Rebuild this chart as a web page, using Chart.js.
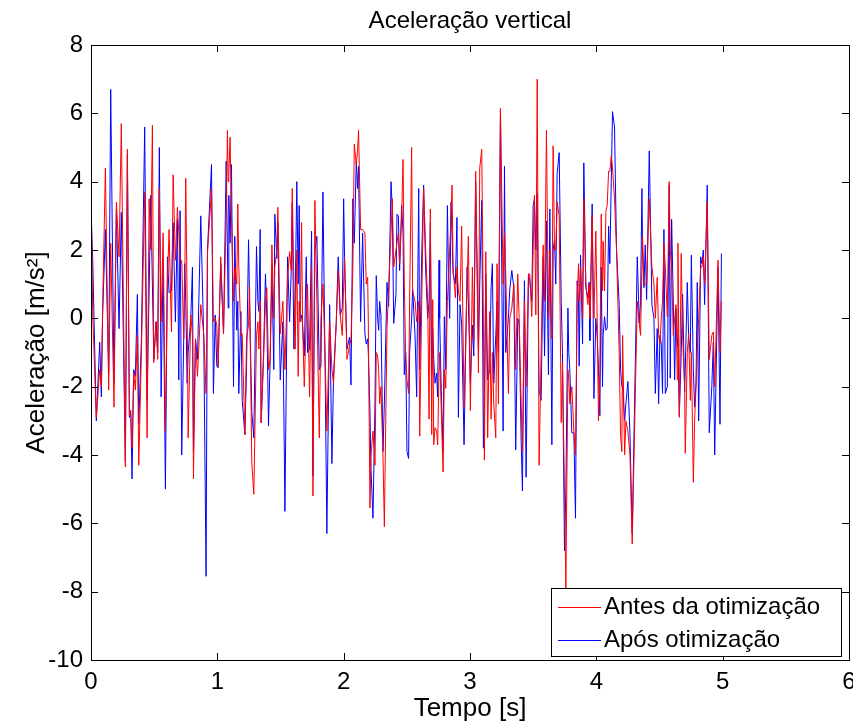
<!DOCTYPE html>
<html><head><meta charset="utf-8">
<script src="https://cdn.jsdelivr.net/npm/chart.js@4/dist/chart.umd.min.js"></script>
<style>html,body{margin:0;padding:0;background:#fff}</style>
</head><body>
<canvas id="c" width="853" height="726"></canvas>
<script>
const chartTitle = 'Aceleração vertical';
const xTitle = 'Tempo [s]';
const yTitle = 'Aceleração [m/s²]';
const seriesNames = ['Antes da otimização', 'Após otimização'];
const xTicks = [0, 1, 2, 3, 4, 5, 6];
const yTicks = [-10, -8, -6, -4, -2, 0, 2, 4, 6, 8];

const time = [0.000,0.013,0.042,0.069,0.082,0.092,0.114,0.140,0.156,0.182,0.201,0.222,0.240,0.272,0.288,0.304,0.314,0.325,0.338,0.351,0.367,0.378,0.399,0.425,0.444,0.460,0.473,0.486,0.497,0.515,0.528,0.541,0.555,0.571,0.589,0.605,0.618,0.637,0.650,0.668,0.684,0.695,0.705,0.718,0.734,0.742,0.750,0.761,0.769,0.790,0.803,0.811,0.827,0.843,0.869,0.893,0.911,0.922,0.954,0.969,0.983,0.996,1.006,1.027,1.049,1.070,1.080,1.086,1.091,1.101,1.112,1.128,1.138,1.154,1.162,1.170,1.186,1.197,1.218,1.231,1.247,1.255,1.273,1.289,1.310,1.321,1.329,1.339,1.347,1.366,1.381,1.392,1.405,1.418,1.432,1.447,1.455,1.471,1.479,1.498,1.519,1.535,1.556,1.572,1.585,1.593,1.606,1.616,1.629,1.640,1.648,1.656,1.667,1.675,1.688,1.704,1.714,1.730,1.746,1.757,1.772,1.788,1.807,1.820,1.836,1.852,1.867,1.889,1.907,1.920,1.941,1.957,1.973,1.989,2.000,2.007,2.026,2.047,2.058,2.073,2.084,2.100,2.110,2.118,2.134,2.150,2.168,2.179,2.190,2.195,2.208,2.216,2.232,2.248,2.258,2.269,2.277,2.285,2.295,2.311,2.322,2.343,2.356,2.375,2.385,2.396,2.414,2.422,2.433,2.443,2.459,2.470,2.480,2.491,2.501,2.514,2.522,2.538,2.546,2.565,2.578,2.594,2.602,2.618,2.633,2.649,2.665,2.676,2.686,2.697,2.705,2.713,2.723,2.736,2.744,2.755,2.760,2.771,2.787,2.797,2.808,2.821,2.829,2.839,2.850,2.858,2.866,2.884,2.897,2.908,2.921,2.934,2.953,2.977,2.987,3.003,3.019,3.030,3.045,3.067,3.077,3.093,3.106,3.114,3.125,3.140,3.156,3.167,3.177,3.188,3.204,3.214,3.225,3.241,3.262,3.273,3.283,3.304,3.315,3.331,3.347,3.362,3.378,3.389,3.405,3.415,3.431,3.444,3.463,3.473,3.489,3.500,3.510,3.521,3.532,3.547,3.563,3.579,3.590,3.605,3.621,3.632,3.648,3.658,3.669,3.679,3.690,3.706,3.722,3.732,3.748,3.759,3.775,3.782,3.790,3.806,3.822,3.835,3.848,3.859,3.864,3.875,3.891,3.901,3.917,3.933,3.943,3.949,3.967,3.981,3.996,4.007,4.017,4.028,4.039,4.049,4.054,4.065,4.076,4.086,4.097,4.107,4.118,4.128,4.144,4.160,4.181,4.192,4.202,4.208,4.224,4.234,4.250,4.266,4.284,4.324,4.340,4.350,4.361,4.366,4.377,4.387,4.398,4.419,4.440,4.456,4.467,4.482,4.493,4.503,4.514,4.524,4.535,4.546,4.562,4.577,4.585,4.596,4.609,4.620,4.630,4.641,4.646,4.657,4.672,4.683,4.699,4.704,4.720,4.731,4.744,4.752,4.768,4.778,4.789,4.799,4.810,4.826,4.836,4.847,4.857,4.878,4.894,4.914,4.926,4.937,4.963,4.979,4.990];

const antes = [4.1,0.2,-2.9,-1.5,-2.0,0.3,4.4,-2.1,2.2,-2.6,3.4,1.8,5.7,-4.35,4.95,-2.85,-2.7,-3.8,-1.6,-2.1,-0.5,-4.3,-1.0,3.7,-3.5,3.5,2.0,5.65,-1.3,-0.1,-1.2,3.8,-0.1,2.5,-3.3,1.0,2.6,-0.4,4.2,1.7,3.25,2.5,1.7,1.7,-0.6,1.0,4.1,0.5,-3.5,0.1,-0.5,-4.7,-0.6,-1.7,0.4,-0.5,-2.2,1.9,3.8,-0.1,0.0,-0.2,-1.4,1.8,-0.45,3.0,5.5,4.0,4.2,5.3,3.0,0.5,1.5,1.0,3.35,1.5,-0.5,-0.45,-3.4,-0.6,-0.2,0.95,-4.25,-5.15,-0.5,-0.1,-0.9,0.5,-3.05,-1.2,0.5,0.9,-1.5,-1.2,2.15,0.0,1.5,2.0,3.25,-0.45,0.5,-1.5,1.2,1.95,1.4,3.8,1.0,-0.9,2.0,-1.7,0.5,-0.1,2.8,-0.2,-2.0,0.0,1.0,-2.3,1.5,-5.2,3.45,0.5,-3.5,0.0,1.0,-1.0,-3.3,-0.1,-1.5,-1.9,-0.15,1.4,0.1,-0.5,1.0,1.75,-1.2,-0.8,-0.6,1.5,5.1,4.5,4.9,5.5,2.6,2.6,2.5,1.0,1.2,-0.1,-5.55,-4.0,-3.3,-4.3,-1.0,-1.1,-1.5,-2.5,-2.0,-4.0,-6.1,-0.3,0.9,2.5,3.5,1.5,2.0,2.2,2.5,1.6,3.0,4.65,1.0,-1.1,-1.8,-2.2,0.5,5.0,0.8,0.5,-0.1,0.5,-3.45,0.5,3.8,2.0,0.5,-2.95,3.2,-3.4,0.55,-3.7,-3.2,-3.3,-3.7,-1.5,-1.0,-2.5,-4.5,-1.5,-2.05,0.5,1.1,2.0,3.0,3.9,1.5,0.6,1.5,0.8,0.5,2.7,-2.6,1.0,2.4,-2.7,1.5,-0.65,4.3,-1.6,4.4,4.95,0.0,-4.15,1.95,-3.5,0.2,-2.95,-1.0,-2.5,-3.5,1.6,-2.5,6.15,1.0,2.5,1.3,-2.2,0.0,0.3,1.0,-1.5,1.3,0.0,-2.5,-3.9,0.5,-2.0,1.3,1.3,0.05,2.0,3.6,0.1,7.0,-4.3,-1.0,2.15,0.5,5.5,0.0,2.0,-0.6,5.05,2.0,2.0,3.4,3.0,-3.05,-1.3,-5.0,-7.9,-1.5,-1.8,-2.5,-2.0,-3.3,-4.0,0.5,1.6,0.5,1.5,0.0,3.5,1.0,0.4,1.0,0.0,3.0,0.0,2.55,0.0,-3.0,-1.5,3.05,0.8,2.25,0.8,3.15,3.3,4.3,4.3,4.75,4.4,3.5,2.0,-1.0,-3.45,-3.9,-0.5,-4.0,-3.0,-3.3,-4.0,-6.6,0.5,-0.15,-0.5,1.5,2.4,1.0,1.0,1.0,3.5,1.5,1.0,0.0,1.2,-0.5,-0.75,0.0,0.5,2.2,1.5,0.05,4.0,2.0,1.5,-0.5,0.0,0.4,-1.8,2.2,-2.9,1.9,-0.5,-2.0,-3.95,-1.0,-0.45,-2.4,-1.0,-4.8,-3.0,-2.0,-1.0,0.0,1.5,1.5,1.8,1.0,3.4,-1.2,-0.5,-0.4,-2.0,1.7,-1.0,0.5];

const apos = [3.1,1.8,-3.0,-0.7,-2.3,0.1,2.6,-1.6,6.7,-1.9,3.2,-0.3,3.1,-4.2,4.8,-2.9,-2.7,-4.7,-1.5,-1.7,0.7,-3.1,-0.6,5.6,-2.4,0.8,3.6,1.0,-1.2,-0.1,-1.0,5.0,-2.3,1.7,-5.0,1.8,0.75,0.8,2.8,-0.1,2.9,-1.8,3.15,-4.0,-0.6,1.6,0.5,-1.9,-1.0,0.0,1.5,-3.9,-0.6,-1.2,3.0,-0.7,-7.55,2.0,4.5,-2.2,0.1,-1.4,-1.45,1.6,-0.45,4.6,2.0,0.3,3.6,2.2,4.5,-2.0,2.4,-0.35,0.5,-2.2,0.2,-2.4,-3.4,-1.5,2.3,0.5,-2.75,-3.5,2.1,0.5,0.2,2.6,-3.05,-1.0,1.3,0.0,-3.15,-1.2,1.4,-1.5,3.05,1.75,2.8,-1.8,-0.1,-5.65,1.8,-0.1,1.4,3.4,-0.9,0.5,4.0,1.0,3.3,-0.1,0.1,-0.2,-1.1,1.8,-1.0,-0.9,2.55,-4.6,2.0,2.4,-1.5,-1.4,3.7,-1.1,-6.3,0.4,-4.25,-1.65,-0.15,1.8,0.1,0.3,3.5,1.8,-0.9,-0.55,-1.95,3.5,2.2,4.6,3.8,4.45,-0.1,2.5,-0.45,-0.75,-0.6,-1.0,-2.7,-4.4,-5.85,-2.5,1.25,0.0,-0.35,0.5,0.1,-3.9,-2.5,1.05,0.35,4.0,3.2,-0.15,0.7,3.05,3.0,1.4,3.3,2.5,-1.65,-1.0,-3.9,-4.1,-1.0,0.0,0.85,-0.5,-2.3,3.8,-1.5,1.9,3.9,1.4,0.0,0.5,2.8,-1.65,-0.3,-1.2,-1.9,-1.6,-2.3,1.7,0.0,-1.9,-3.9,0.05,-1.5,3.3,1.5,0.0,3.4,2.5,1.3,1.0,2.95,-2.9,0.4,-0.2,-3.7,1.5,0.5,-1.9,-0.2,-1.1,4.0,-0.9,1.0,3.45,-3.8,-2.3,1.3,-1.8,-1.5,0.9,1.6,-1.9,-0.5,0.5,-1.0,6.1,-3.3,4.45,-1.0,0.0,0.85,1.4,0.9,-3.85,0.0,-0.15,-3.6,-5.05,1.1,-4.65,1.3,1.1,0.5,3.3,3.5,2.0,3.65,-2.1,-2.4,1.8,-1.1,2.85,-1.65,3.2,-3.7,2.0,2.3,1.0,4.25,4.85,0.5,-1.0,-6.8,-5.0,0.3,-1.0,-1.5,-3.35,-3.35,-5.85,1.1,0.5,-1.4,1.85,-0.75,4.55,0.9,0.6,1.05,-0.65,3.35,-2.35,0.0,-0.55,-1.5,-2.85,1.5,-2.0,-0.5,0.05,-0.35,-0.3,2.7,1.6,4.0,6.05,5.6,2.0,0.4,-1.5,-2.0,-2.0,-3.0,-2.5,-1.85,-3.35,-6.3,1.8,-0.15,0.5,3.8,2.0,0.9,2.15,0.55,4.9,0.4,0.0,-2.2,-0.3,-2.5,-0.5,-0.75,-2.2,2.6,-2.2,-2.0,3.9,-1.75,2.9,0.5,-1.8,0.3,-0.6,-0.8,-2.85,-1.0,0.7,-2.15,-1.5,1.05,-0.6,-1.0,1.85,-1.5,-2.6,-1.9,1.05,-3.0,1.8,1.6,2.0,0.4,3.9,-3.35,-2.0,-0.7,-4.0,1.5,-3.1,1.9];

const FONT = '"Liberation Sans", Arial, Helvetica, sans-serif';
const toPts = vals => time.map((t, i) => ({ x: t, y: vals[i] }));

const titlePlugin = {
  id: 'areaTitle',
  afterDraw(chart, args, o) {
    const { ctx, chartArea: a } = chart;
    ctx.save();
    ctx.fillStyle = '#000';
    ctx.font = o.size + 'px ' + FONT;
    ctx.textAlign = 'center';
    ctx.textBaseline = 'middle';
    ctx.fillText(o.text, (a.left + a.right) / 2, o.y);
    ctx.restore();
  }
};

const framePlugin = {
  id: 'frame',
  afterDatasetsDraw(chart) {
    const { ctx, chartArea: a, scales } = chart;
    const L = 7;
    ctx.save();
    ctx.strokeStyle = '#000';
    ctx.lineWidth = 1;
    ctx.beginPath();
    xTicks.forEach(v => {
      const px = Math.round(scales.x.getPixelForValue(v)) + 0.5;
      ctx.moveTo(px, a.bottom); ctx.lineTo(px, a.bottom - L);
      ctx.moveTo(px, a.top); ctx.lineTo(px, a.top + L);
    });
    yTicks.forEach(v => {
      const py = Math.round(scales.y.getPixelForValue(v)) + 0.5;
      ctx.moveTo(a.left, py); ctx.lineTo(a.left + L, py);
      ctx.moveTo(a.right, py); ctx.lineTo(a.right - L, py);
    });
    ctx.stroke();
    ctx.strokeRect(Math.round(a.left) + 0.5, Math.round(a.top) + 0.5, Math.round(a.right - a.left), Math.round(a.bottom - a.top));
    ctx.restore();
  }
};

const legendPlugin = {
  id: 'boxLegend',
  afterDraw(chart, args, o) {
    const { ctx } = chart;
    ctx.save();
    ctx.fillStyle = '#fff';
    ctx.fillRect(o.x, o.y, o.w, o.h);
    ctx.strokeStyle = '#000';
    ctx.lineWidth = 1;
    ctx.strokeRect(o.x + 0.5, o.y + 0.5, o.w, o.h);
    ctx.font = '24px ' + FONT;
    ctx.textBaseline = 'middle';
    chart.data.datasets.forEach((ds, i) => {
      const cy = o.y + o.row0 + i * o.rowH;
      ctx.strokeStyle = ds.borderColor;
      ctx.beginPath();
      ctx.moveTo(o.x + 7, Math.round(cy) + 0.5);
      ctx.lineTo(o.x + 50, Math.round(cy) + 0.5);
      ctx.stroke();
      ctx.fillStyle = '#000';
      ctx.fillText(ds.label, o.x + 53, cy);
    });
    ctx.restore();
  }
};

new Chart(document.getElementById('c'), {
  type: 'line',
  data: {
    datasets: [
      { label: seriesNames[0], data: toPts(antes), borderColor: '#ff0000', borderWidth: 1, pointRadius: 0, tension: 0, fill: false },
      { label: seriesNames[1], data: toPts(apos), borderColor: '#0000ff', borderWidth: 1, pointRadius: 0, tension: 0, fill: false }
    ]
  },
  options: {
    responsive: false,
    animation: false,
    devicePixelRatio: 1,
    layout: { padding: { left: 0, right: 4, top: 45, bottom: 0 } },
    plugins: {
      legend: { display: false },
      tooltip: { enabled: false },
      title: { display: false },
      areaTitle: { text: chartTitle, size: 24, y: 21 },
      boxLegend: { x: 551, y: 588, w: 290, h: 68, row0: 19, rowH: 33 }
    },
    scales: {
      x: {
        type: 'linear', min: 0, max: 6,
        afterBuildTicks: s => { s.ticks = xTicks.map(v => ({ value: v })); },
        grid: { display: false, drawTicks: false },
        border: { display: false },
        ticks: { color: '#000', font: { family: FONT, size: 24 }, padding: 8, maxRotation: 0 },
        title: { display: true, text: xTitle, color: '#000', font: { family: FONT, size: 26 }, padding: { top: 0, bottom: 2 } },
        afterFit: s => { s.height = 66; s.paddingLeft = 0; s.paddingRight = 0; }
      },
      y: {
        type: 'linear', min: -10, max: 8,
        afterBuildTicks: s => { s.ticks = yTicks.map(v => ({ value: v })); },
        grid: { display: false, drawTicks: false },
        border: { display: false },
        ticks: { color: '#000', font: { family: FONT, size: 24 }, padding: 8 },
        title: { display: true, text: yTitle, color: '#000', font: { family: FONT, size: 26 }, padding: { top: 21, bottom: 0 } },
        afterFit: s => { s.width = 91; s.paddingTop = 0; s.paddingBottom = 0; }
      }
    }
  },
  plugins: [framePlugin, legendPlugin, titlePlugin]
});
</script>
</body></html>
